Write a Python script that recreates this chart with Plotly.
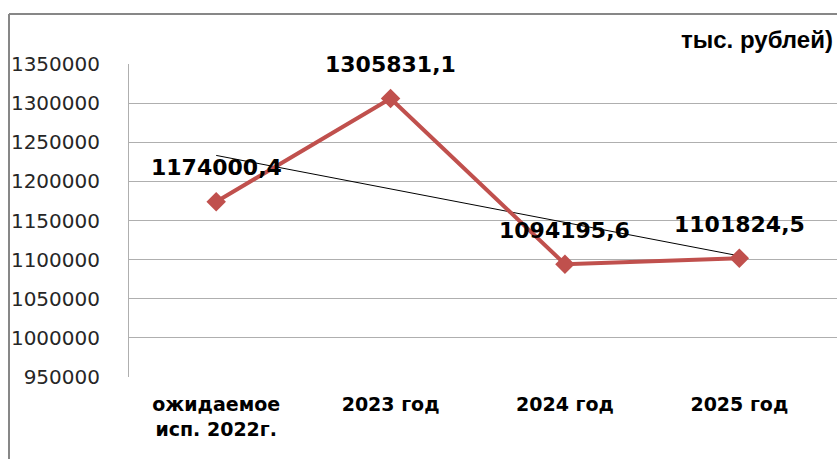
import numpy as np
import plotly.graph_objects as go

# Data
categories = ["ожидаемое<br>исп. 2022г.", "2023 год", "2024 год", "2025 год"]
values = [1174000.4, 1305831.1, 1094195.6, 1101824.5]
value_labels = ["1174000,4", "1305831,1", "1094195,6", "1101824,5"]
y_ticks = [950000, 1000000, 1050000, 1100000, 1150000, 1200000, 1250000, 1300000, 1350000]

W, H = 837, 459
L, T, B = 129, 64, 82

xs = list(range(len(values)))
# linear trendline through the series
slope, intercept = np.polyfit(xs, values, 1)
trend = [slope * x + intercept for x in xs]

fig = go.Figure()

fig.add_trace(go.Scatter(
    x=xs, y=trend, mode="lines",
    line=dict(color="black", width=1),
    hoverinfo="skip"
))

fig.add_trace(go.Scatter(
    x=xs, y=values, mode="lines+markers",
    line=dict(color="#C0504D", width=4),
    marker=dict(symbol="diamond", size=15, color="#C0504D"),
))

for x, v, lbl in zip(xs, values, value_labels):
    fig.add_annotation(
        x=x, y=v, text=lbl, showarrow=False, yshift=34,
        font=dict(family="DejaVu Sans", size=22, color="black", weight="bold"),
    )

def px_x(p):
    return (p - L) / (W - L)

def px_y(p):
    return (H - B - p) / (H - B - T)

# outer chart border (top and left visible)
fig.add_shape(type="line", xref="paper", yref="paper",
              x0=px_x(9), x1=px_x(W + 5), y0=px_y(14), y1=px_y(14),
              line=dict(color="#878787", width=2))
fig.add_shape(type="line", xref="paper", yref="paper",
              x0=px_x(9), x1=px_x(9), y0=px_y(14), y1=px_y(H + 5),
              line=dict(color="#878787", width=2))

fig.add_annotation(
    xref="paper", yref="paper", x=px_x(835), y=px_y(40),
    xanchor="right", yanchor="middle", showarrow=False,
    text="тыс. рублей)",
    font=dict(family="Liberation Sans", size=24, color="black", weight="bold"),
)

fig.update_xaxes(
    range=[-0.5, 3.56],
    tickvals=xs, ticktext=categories,
    showgrid=False, zeroline=False,
    showline=False, ticks="",
    ticklabelstandoff=14,
    tickfont=dict(family="DejaVu Sans", size=19, color="black", weight="bold"),
)
fig.update_yaxes(
    range=[950000, 1350000],
    tickvals=y_ticks, ticktext=[str(t) for t in y_ticks],
    showgrid=True, gridcolor="#AFAFAF", gridwidth=1,
    zeroline=False,
    showline=True, linecolor="#AFAFAF", linewidth=1,
    ticks="", ticklabelstandoff=24,
    tickfont=dict(family="DejaVu Sans", size=20, color="#262626"),
)

fig.update_layout(
    width=W, height=H,
    margin=dict(l=L, r=0, t=T, b=B),
    paper_bgcolor="white", plot_bgcolor="white",
    showlegend=False,
)

# remove the page's default body margin so the figure fills the window
fig.write_html("out.html", config={"displayModeBar": False},
               post_script="document.body.style.margin='0';")
